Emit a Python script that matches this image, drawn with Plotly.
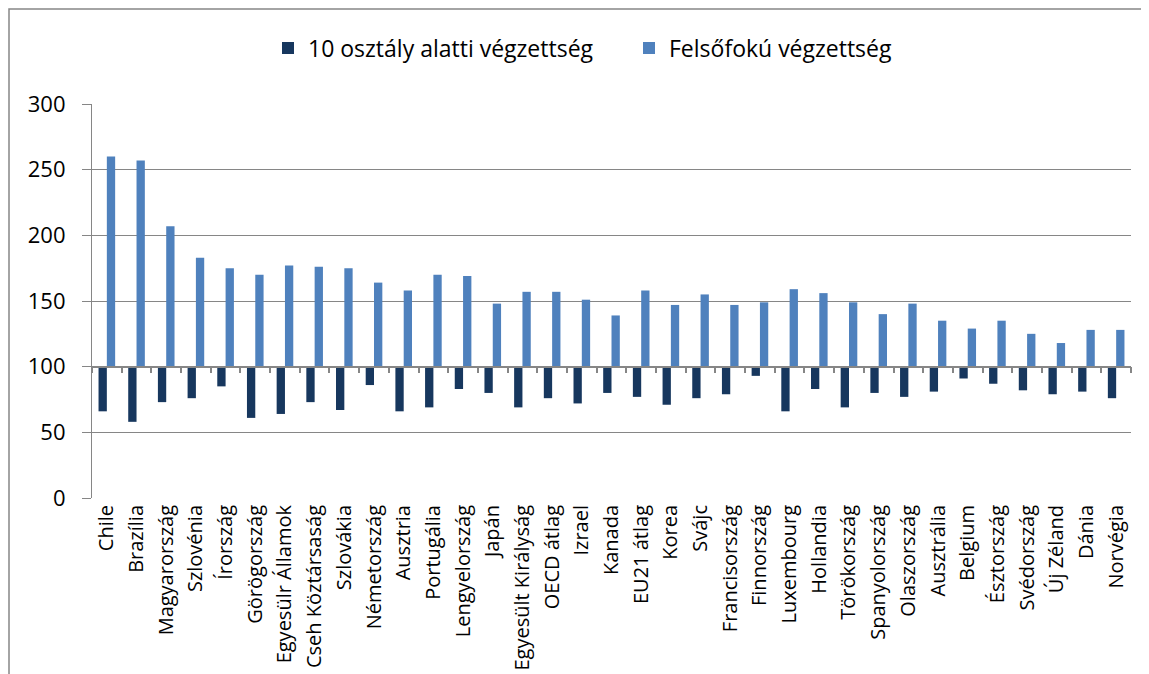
import plotly.graph_objects as go

categories = ["Chile", "Brazília", "Magyarország", "Szlovénia", "Írország", "Görögország",
              "Egyesülr Államok", "Cseh Köztársaság", "Szlovákia", "Németország", "Ausztria",
              "Portugália", "Lengyelország", "Japán", "Egyesült Királyság", "OECD átlag", "Izrael",
              "Kanada", "EU21 átlag", "Korea", "Svájc", "Francisország", "Finnország", "Luxembourg",
              "Hollandia", "Törökország", "Spanyolország", "Olaszország", "Ausztrália", "Belgium",
              "Észtország", "Svédország", "Új Zéland", "Dánia", "Norvégia"]

below_10 = [66, 58, 73, 76, 85, 61, 64, 73, 67, 86, 66, 69, 83, 80, 69, 76, 72, 80, 77, 71,
            76, 79, 93, 66, 83, 69, 80, 77, 81, 91, 87, 82, 79, 81, 76]
tertiary = [260, 257, 207, 183, 175, 170, 177, 176, 175, 164, 158, 170, 169, 148, 157, 157, 151,
            139, 158, 147, 155, 147, 149, 159, 156, 149, 140, 148, 135, 129, 135, 125, 118, 128, 128]

names = ["10 osztály alatti végzettség", "Felsőfokú végzettség"]
colors = ["#17375E", "#4F81BD"]
baseline = 100
y_ticks = [0, 50, 100, 150, 200, 250, 300]

fig = go.Figure()
for name, vals, col in zip(names, [below_10, tertiary], colors):
    fig.add_trace(go.Bar(
        x=categories, y=[v - baseline for v in vals], base=baseline, name=name,
        marker=dict(color=col, line=dict(width=0)), xaxis="x", yaxis="y",
    ))

# invisible trace to carry the category axis drawn at value 100
fig.add_trace(go.Scatter(x=categories, y=[baseline] * len(categories), mode="markers",
                         marker=dict(opacity=0), showlegend=False, hoverinfo="skip",
                         xaxis="x2", yaxis="y"))

OFF = 8  # page body margin
W, H = 1149 - OFF, 674 - OFF
L, T = 92 - OFF, 104 - OFF
pw, ph = 1039, 394
R, B = W - L - pw, H - T - ph

fig.update_layout(
    width=W, height=H,
    margin=dict(l=L, r=R, t=T, b=B, pad=0, autoexpand=False),
    paper_bgcolor="white", plot_bgcolor="white",
    barmode="group", bargap=0.44, bargroupgap=0,
    font=dict(family="Open Sans, DejaVu Sans, sans-serif", color="black"),
    legend=dict(orientation="h", x=(260 - L) / pw, xanchor="left", y=(ph + T - 40) / ph,
                yanchor="middle", font=dict(size=23), traceorder="normal",
                entrywidth=316, entrywidthmode="pixels", itemwidth=30),
    xaxis=dict(type="category", showline=False, ticks="", showgrid=False, automargin=False,
               tickangle=-90, tickfont=dict(size=20), ticklabelstandoff=2,
               range=[-0.5, len(categories) - 0.5]),
    xaxis2=dict(type="category", overlaying="x", matches="x", anchor="free",
                position=baseline / 300, showline=True, linecolor="#868686", linewidth=1.5,
                ticks="outside", ticklen=6, tickcolor="#868686", tickwidth=1.5,
                tickson="boundaries", showticklabels=False, showgrid=False),
    yaxis=dict(range=[0, 300], tickvals=y_ticks, showgrid=True, gridcolor="#868686",
               gridwidth=1.2, showline=True, linecolor="#868686", linewidth=1.2,
               ticks="outside", ticklen=9, tickcolor="#868686", tickfont=dict(size=22),
               ticklabelstandoff=12, zeroline=False, automargin=False),
    shapes=[dict(type="rect", xref="paper", yref="paper",
                 x0=(1 - L) / pw, x1=(1138 - L) / pw, y0=(ph + T - 700) / ph, y1=(ph + T - 1) / ph,
                 line=dict(color="#868686", width=1.5), layer="below")],
)

fig.write_html("out.html")
